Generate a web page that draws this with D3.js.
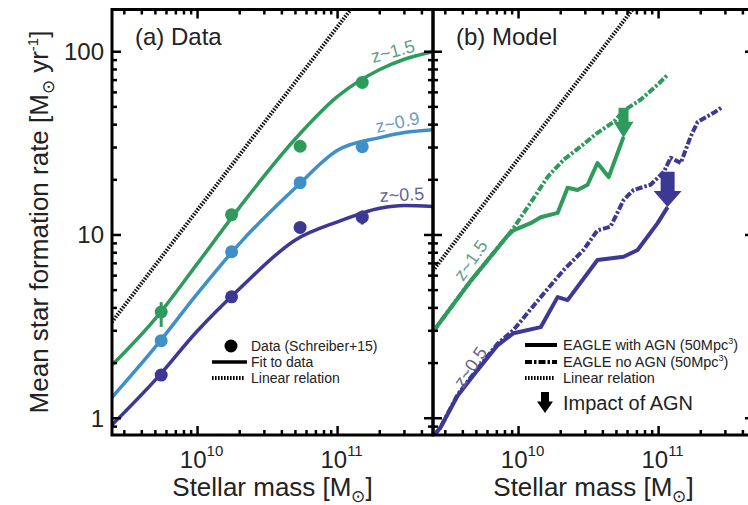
<!DOCTYPE html>
<html>
<head>
<meta charset="utf-8">
<script src="https://cdn.jsdelivr.net/npm/d3@7"></script>
<style>
  body { margin: 0; background: #fff; }
  svg { display: block; font-family: "Liberation Sans", Arial, sans-serif; }
</style>
</head>
<body>
<svg width="748" height="505"></svg>
<script>
// ---- (a) Data: Schreiber+15 points ----
var dataMass  = [5.5e9, 1.75e10, 5.4e10, 1.5e11];
var dataSfr15 = [3.8, 12.9, 30.5, 68];
var dataSfr09 = [2.65, 8.1, 19.3, 30.3];
var dataSfr05 = [1.72, 4.6, 11.0, 12.5];
var errLo15 = [3.15, 12.0, 29.0, 65], errHi15 = [4.3, 13.8, 32.0, 71];
var errLo09 = [2.5, 7.7, 18.5, 29.0], errHi09 = [2.8, 8.5, 20.1, 31.6];
var errLo05 = [1.62, 4.35, 10.4, 11.4], errHi05 = [1.83, 4.85, 11.6, 13.6];

// fit curves
var fitMass = [2.45e9, 5e9, 1e10, 2e10, 5e10, 1e11, 2e11, 3e11, 4.8e11];
var fit15 = [1.95, 3.5, 7.0, 14.2, 33.5, 57, 80, 91, 100];
var fit09 = [1.3, 2.45, 4.8, 9.0, 18.1, 29, 34, 36.2, 37.5];
var fit05 = [0.92, 1.62, 3.0, 5.1, 9.4, 11.8, 14.0, 14.5, 14.3];

// linear relation end points
var linMassA = [2.3e9, 1.4e11], linSfrA = [3.15, 192];
var linMassB = [2.3e9, 7.5e10], linSfrB = [6.0, 196];

// ---- (b) Model: EAGLE ----
var g15AgnMass = [2.47e9, 4.54e9, 8.34e9, 9.2e9, 1.22e10, 1.44e10, 1.9e10, 2.24e10, 2.64e10, 3.11e10, 3.66e10, 4.4e10, 5.62e10];
var g15AgnSfr  = [2.99, 5.6, 9.9, 10.6, 11.6, 12.5, 13.2, 18.1, 17.6, 18.8, 24.7, 20.7, 34.3];
var g15NoMass = [2.47e9, 4.54e9, 8.34e9, 9.2e9, 1.22e10, 1.61e10, 2.09e10, 2.77e10, 3.66e10, 4.78e10, 5.62e10, 7.43e10, 9.84e10, 1.16e11];
var g15NoSfr  = [2.99, 5.6, 9.9, 10.9, 15.0, 20.7, 25.7, 30.3, 36.1, 41.4, 47.6, 54.7, 66.1, 74.9];
var p05AgnMass = [2.47e9, 2.77e9, 3.66e9, 4.78e9, 7.08e9, 9.2e9, 1.44e10, 1.9e10, 2.24e10, 3.66e10, 5.62e10, 7.08e10, 9.84e10, 1.16e11];
var p05AgnSfr  = [0.80, 0.89, 1.32, 1.72, 2.5, 2.91, 3.14, 4.58, 4.41, 7.3, 7.6, 8.28, 11.6, 14.2];
var p05NoMass = [2.47e9, 2.77e9, 3.66e9, 4.78e9, 7.08e9, 9.2e9, 1.44e10, 2.1e10, 2.91e10, 3.66e10, 4.54e10, 5.62e10, 6.62e10, 8.77e10, 1.09e11, 1.22e11, 1.44e11, 1.56e11, 1.69e11, 1.9e11, 2.47e11, 2.86e11];
var p05NoSfr  = [0.80, 0.89, 1.34, 1.75, 2.55, 3.03, 4.58, 6.44, 8.28, 10.6, 11.1, 15.5, 17.6, 18.8, 22.1, 26.4, 24.7, 29.1, 34.3, 41.4, 46.4, 50.0];

// impact-of-AGN arrows: mass, from, to
var arrowMass = [5.62e10, 1.16e11];
var arrowFrom = [49.4, 22.1];
var arrowTo   = [33.9, 14.2];

var yMajor = [1, 10, 100];
var yMinor = [0.9, 2, 3, 4, 5, 6, 7, 8, 9, 20, 30, 40, 50, 60, 70, 80, 90];
var xMajor = [1e10, 1e11];
var xMinor = [3e9, 4e9, 5e9, 6e9, 7e9, 8e9, 9e9, 2e10, 3e10, 4e10, 5e10, 6e10, 7e10, 8e10, 9e10, 2e11, 3e11, 4e11];
var xTickExp = ["10", "11"];

var green = "#2e9a5c", blue = "#3f8fc8", purple = "#3d3796";

var svg = d3.select("svg");
var plotTop = 9.5, plotBottom = 435;

var y = d3.scaleLog().domain([0.81, 170]).range([plotBottom, plotTop]);
var xA = d3.scaleLog().domain([2.45e9, 4.8e11]).range([112, 433]);
var xB = d3.scaleLog().domain([2.45e9, 4.8e11]).range([433, 754]);

function panel(x, id) {
    var g = svg.append("g");
    var r = x.range();
    svg.append("clipPath").attr("id", id)
       .append("rect").attr("x", r[0]).attr("y", plotTop).attr("width", r[1] - r[0]).attr("height", plotBottom - plotTop);
    var plot = g.append("g").attr("clip-path", "url(#" + id + ")");
    return { g: g, plot: plot, x: x };
}

function drawFrame(p) {
    var x = p.x, r = x.range(), g = p.g;
    var ax = g.append("g").attr("stroke", "#000").attr("stroke-width", 2.5);
    // x ticks on bottom and top
    xMajor.concat(xMinor).forEach(function(v) {
        var len = xMajor.indexOf(v) >= 0 ? 9 : 5;
        ax.append("line").attr("x1", x(v)).attr("x2", x(v)).attr("y1", plotBottom).attr("y2", plotBottom - len);
        ax.append("line").attr("x1", x(v)).attr("x2", x(v)).attr("y1", plotTop).attr("y2", plotTop + len);
    });
    // y ticks on left and right
    yMajor.concat(yMinor).forEach(function(v) {
        var len = yMajor.indexOf(v) >= 0 ? 9 : 5;
        ax.append("line").attr("x1", r[0]).attr("x2", r[0] + len).attr("y1", y(v)).attr("y2", y(v));
        ax.append("line").attr("x1", r[1]).attr("x2", r[1] - len).attr("y1", y(v)).attr("y2", y(v));
    });
    g.append("rect").attr("x", r[0]).attr("y", plotTop).attr("width", r[1] - r[0]).attr("height", plotBottom - plotTop)
     .attr("fill", "none").attr("stroke", "#000").attr("stroke-width", 3);

    // x tick labels
    xMajor.forEach(function(v, i) {
        var t = g.append("text").attr("x", x(v) + 4).attr("y", 468)
                 .attr("text-anchor", "middle").attr("font-size", 24).attr("fill", "#222");
        t.append("tspan").text("10");
        t.append("tspan").attr("dy", -12).attr("font-size", 15).text(xTickExp[i]);
    });
    // x title
    var xt = g.append("text").attr("x", (r[0] + r[1]) / 2).attr("y", 496)
              .attr("text-anchor", "middle").attr("font-size", 26).attr("fill", "#222");
    xt.append("tspan").text("Stellar mass [M");
    xt.append("tspan").attr("dy", 6).attr("font-size", 17).text("\u2299");
    xt.append("tspan").attr("dy", -6).text("]");
}

function linear(p, mass, sfr) {
    p.plot.append("path")
        .datum(d3.zip(mass, sfr))
        .attr("d", d3.line().x(function(d) { return p.x(d[0]); }).y(function(d) { return y(d[1]); }))
        .attr("fill", "none").attr("stroke", "#111").attr("stroke-width", 4)
        .attr("stroke-dasharray", "1.6,1.4");
}

function curve(p, mass, sfr, color, width, dash, smooth) {
    var line = d3.line()
        .x(function(d) { return p.x(d[0]); })
        .y(function(d) { return y(d[1]); })
        .curve(smooth ? d3.curveMonotoneX : d3.curveLinear);
    p.plot.append("path")
        .datum(d3.zip(mass, sfr))
        .attr("d", line)
        .attr("fill", "none").attr("stroke", color).attr("stroke-width", width)
        .attr("stroke-linejoin", "round")
        .attr("stroke-dasharray", dash || null);
}

function points(p, sfr, lo, hi, color) {
    var g = p.plot.append("g");
    dataMass.forEach(function(m, i) {
        g.append("line").attr("x1", p.x(m)).attr("x2", p.x(m))
         .attr("y1", y(lo[i])).attr("y2", y(hi[i]))
         .attr("stroke", color).attr("stroke-width", 3);
        g.append("circle").attr("cx", p.x(m)).attr("cy", y(sfr[i])).attr("r", 6.5).attr("fill", color);
    });
}

function label(g, x, yy, angle, text, color) {
    g.append("text").attr("transform", "translate(" + x + "," + yy + ") rotate(" + angle + ")")
     .attr("font-size", 18).attr("fill", color).text(text);
}

// ---------------- panel (a) ----------------
var pa = panel(xA, "clipA");
linear(pa, linMassA, linSfrA);
curve(pa, fitMass, fit15, green, 3.5, null, true);
curve(pa, fitMass, fit09, blue, 3.5, null, true);
curve(pa, fitMass, fit05, purple, 3.5, null, true);
points(pa, dataSfr15, errLo15, errHi15, green);
points(pa, dataSfr09, errLo09, errHi09, blue);
points(pa, dataSfr05, errLo05, errHi05, purple);

label(pa.g, 373, 63, -15, "z~1.5", "#5f9f86");
label(pa.g, 377, 133, -12, "z~0.9", "#6b9cc0");
label(pa.g, 380, 202, -3, "z~0.5", "#66668f");

pa.g.append("text").attr("x", 135).attr("y", 45).attr("font-size", 24).attr("fill", "#222").text("(a) Data");

// legend (a)
var la = pa.g.append("g").attr("font-size", 14).attr("fill", "#222");
la.append("circle").attr("cx", 231).attr("cy", 346).attr("r", 6.5).attr("fill", "#000");
la.append("text").attr("x", 251).attr("y", 351).text("Data (Schreiber+15)");
la.append("line").attr("x1", 212).attr("x2", 247).attr("y1", 362).attr("y2", 362).attr("stroke", "#000").attr("stroke-width", 3.5);
la.append("text").attr("x", 251).attr("y", 367).text("Fit to data");
la.append("line").attr("x1", 212).attr("x2", 245).attr("y1", 378).attr("y2", 378).attr("stroke", "#000").attr("stroke-width", 4).attr("stroke-dasharray", "1.6,1.4");
la.append("text").attr("x", 251).attr("y", 383).text("Linear relation");

// y axis labels
yMajor.forEach(function(v) {
    pa.g.append("text").attr("x", 104).attr("y", y(v) + 8.5).attr("text-anchor", "end")
        .attr("font-size", 24).attr("fill", "#222").text(String(v));
});
var yt = pa.g.append("text").attr("transform", "translate(48,222) rotate(-90)")
    .attr("text-anchor", "middle").attr("font-size", 26).attr("fill", "#222");
yt.append("tspan").text("Mean star formation rate [M");
yt.append("tspan").attr("dy", 6).attr("font-size", 17).text("\u2299");
yt.append("tspan").attr("dy", -6).text(" yr");
yt.append("tspan").attr("dy", -10).attr("font-size", 15).text("-1");
yt.append("tspan").attr("dy", 10).text("]");

drawFrame(pa);

// ---------------- panel (b) ----------------
var pb = panel(xB, "clipB");
linear(pb, linMassB, linSfrB);
curve(pb, p05NoMass, p05NoSfr, purple, 4, "7,2,2.5,2");
curve(pb, p05AgnMass, p05AgnSfr, purple, 4);
curve(pb, g15NoMass, g15NoSfr, green, 4, "7,2,2.5,2");
curve(pb, g15AgnMass, g15AgnSfr, green, 4);

function arrow(g, cx, y0, y1, w, color) {
    var head = Math.min(16, (y1 - y0) * 0.55);
    var pts = [[cx - w, y0], [cx + w, y0], [cx + w, y1 - head], [cx + 2 * w, y1 - head],
               [cx, y1], [cx - 2 * w, y1 - head], [cx - w, y1 - head]];
    g.append("polygon").attr("points", pts.map(function(q) { return q.join(","); }).join(" "))
     .attr("fill", color);
}
var arrowColor = [green, purple], arrowW = [5, 7];
arrowMass.forEach(function(m, i) {
    arrow(pb.plot, xB(m), y(arrowFrom[i]), y(arrowTo[i]), arrowW[i], arrowColor[i]);
});

label(pb.g, 463, 282, -55, "z~1.5", "#5f9f86");
label(pb.g, 463, 389, -56, "z~0.5", "#66668f");

pb.g.append("text").attr("x", 456).attr("y", 45).attr("font-size", 24).attr("fill", "#222").text("(b) Model");

// legend (b)
var lb = pb.g.append("g").attr("font-size", 14.5).attr("fill", "#222");
lb.append("line").attr("x1", 525).attr("x2", 557).attr("y1", 345).attr("y2", 345).attr("stroke", "#000").attr("stroke-width", 4);
var t1 = lb.append("text").attr("x", 563).attr("y", 350).text("EAGLE with AGN (50Mpc");
t1.append("tspan").attr("dy", -6).attr("font-size", 9).text("3");
t1.append("tspan").attr("dy", 6).text(")");
lb.append("line").attr("x1", 525).attr("x2", 557).attr("y1", 362).attr("y2", 362).attr("stroke", "#000").attr("stroke-width", 4).attr("stroke-dasharray", "7,2,2.5,2");
var t2 = lb.append("text").attr("x", 563).attr("y", 367).text("EAGLE no AGN (50Mpc");
t2.append("tspan").attr("dy", -6).attr("font-size", 9).text("3");
t2.append("tspan").attr("dy", 6).text(")");
lb.append("line").attr("x1", 525).attr("x2", 554).attr("y1", 378).attr("y2", 378).attr("stroke", "#000").attr("stroke-width", 4).attr("stroke-dasharray", "1.6,1.4");
lb.append("text").attr("x", 563).attr("y", 383).text("Linear relation");
arrow(lb, 545, 392, 413, 4, "#000");
lb.append("text").attr("x", 563).attr("y", 410).attr("font-size", 20).text("Impact of AGN");

drawFrame(pb);
</script>
</body>
</html>
